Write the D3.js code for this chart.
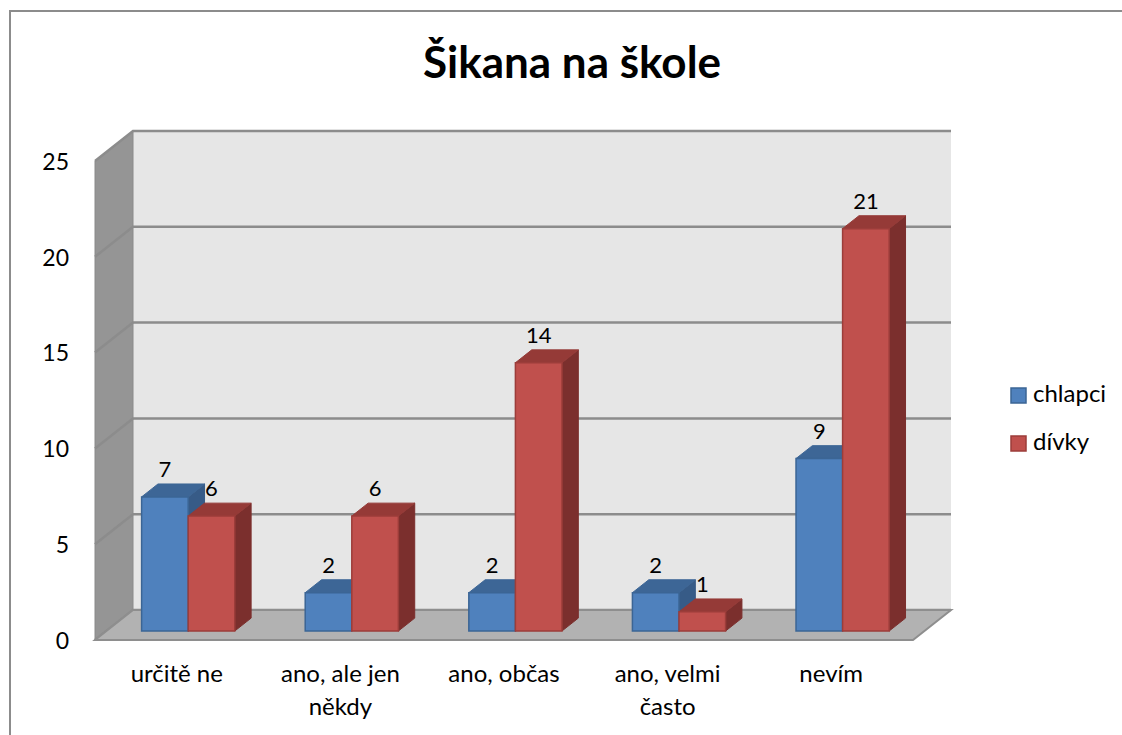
<!DOCTYPE html>
<html>
<head>
<meta charset="utf-8">
<script src="https://cdn.jsdelivr.net/npm/d3@7"></script>
<style>
  body { margin: 0; background: #fff; }
  svg { display: block; font-family: Lato, sans-serif; }
</style>
</head>
<body>
<div id="chart"></div>
<script>
const categories = ["určitě ne", "ano, ale jen někdy", "ano, občas", "ano, velmi často", "nevím"];
const series = ["chlapci", "dívky"];
const chlapci = [7, 2, 2, 2, 9];
const divky = [6, 6, 14, 1, 21];
const yTicks = [0, 5, 10, 15, 20, 25];

const width = 1122, height = 735;
const front = { left: 95, right: 913, bottom: 640, top: 161 };
const depthX = 38, depthY = -30;
const barZ0 = 0.3, barZ1 = 0.73;

const palette = {
  chlapci: { front: "#4f81bd", top: "#3d6696", side: "#375b87", stroke: "#3b6595" },
  "dívky": { front: "#c0504d", top: "#953a37", side: "#7b2f2d", stroke: "#9c3d3a" }
};

const svg = d3.select("#chart").append("svg")
  .attr("width", width)
  .attr("height", height);

// outer border
svg.append("rect")
  .attr("x", 10).attr("y", 11)
  .attr("width", 1125).attr("height", 740)
  .attr("fill", "#fff")
  .attr("stroke", "#8c8c8c")
  .attr("stroke-width", 2);

const y = d3.scaleLinear().domain([0, 25]).range([front.bottom, front.top]);
const x0 = d3.scaleBand().domain(categories).range([front.left, front.right]);
const x1 = d3.scaleBand().domain(series).range([0, x0.bandwidth()]).paddingOuter(0.756);

// project a point (front x, value, depth 0..1)
const P = (x, v, z) => [x + z * depthX, y(v) + z * depthY];
const poly = pts => pts.map(p => p.join(",")).join(" ");

// back wall
svg.append("polygon")
  .attr("points", poly([P(front.left, 0, 1), P(front.right, 0, 1), P(front.right, 25, 1), P(front.left, 25, 1)]))
  .attr("fill", "#e6e6e6");

// side wall
svg.append("polygon")
  .attr("points", poly([P(front.left, 0, 0), P(front.left, 0, 1), P(front.left, 25, 1), P(front.left, 25, 0)]))
  .attr("fill", "#959595")
  .attr("stroke", "#8a8a8a")
  .attr("stroke-width", 1);

// gridlines
yTicks.forEach(t => {
  svg.append("polyline")
    .attr("points", poly([P(front.left, t, 0), P(front.left, t, 1), P(front.right, t, 1)]))
    .attr("fill", "none")
    .attr("stroke", "#8c8c8c")
    .attr("stroke-width", 2.5);
});

// floor
svg.append("polygon")
  .attr("points", poly([P(front.left, 0, 0), P(front.right, 0, 0), P(front.right, 0, 1), P(front.left, 0, 1)]))
  .attr("fill", "#b2b2b2")
  .attr("stroke", "#8e8e8e")
  .attr("stroke-width", 2);

// bars
const rows = [];
categories.forEach((c, i) => {
  rows.push({ cat: c, s: "chlapci", v: chlapci[i] });
  rows.push({ cat: c, s: "dívky", v: divky[i] });
});

const bars = svg.append("g").selectAll("g").data(rows).join("g");

bars.each(function (d) {
  const g = d3.select(this);
  const xl = x0(d.cat) + x1(d.s), xr = xl + x1.bandwidth();
  const col = palette[d.s];
  g.append("polygon")
    .attr("points", poly([P(xr, 0, barZ0), P(xr, 0, barZ1), P(xr, d.v, barZ1), P(xr, d.v, barZ0)]))
    .attr("fill", col.side).attr("stroke", col.side).attr("stroke-width", 1);
  g.append("polygon")
    .attr("points", poly([P(xl, d.v, barZ0), P(xr, d.v, barZ0), P(xr, d.v, barZ1), P(xl, d.v, barZ1)]))
    .attr("fill", col.top).attr("stroke", col.top).attr("stroke-width", 1);
  g.append("polygon")
    .attr("points", poly([P(xl, 0, barZ0), P(xr, 0, barZ0), P(xr, d.v, barZ0), P(xl, d.v, barZ0)]))
    .attr("fill", col.front).attr("stroke", col.stroke).attr("stroke-width", 1.5);
});

// data labels
svg.append("g").selectAll("text").data(rows).join("text")
  .attr("x", d => P(x0(d.cat) + x1(d.s) + x1.bandwidth() / 2, d.v, barZ0)[0])
  .attr("y", d => P(0, d.v, barZ0)[1] - 20)
  .attr("text-anchor", "middle")
  .attr("font-size", 22)
  .attr("fill", "#000")
  .text(d => d.v);

// y axis
const yAxis = svg.append("g")
  .attr("transform", "translate(69,0)")
  .call(d3.axisLeft(y).tickValues(yTicks).tickSize(0).tickPadding(0));
yAxis.select(".domain").remove();
yAxis.selectAll("text")
  .attr("font-family", "Lato, sans-serif")
  .attr("font-size", 23)
  .attr("fill", "#000")
  .attr("dy", "0.36em");

// category labels (wrapped)
const xAxis = svg.append("g")
  .attr("transform", `translate(0,${front.bottom})`)
  .call(d3.axisBottom(x0).tickSize(0).tickPadding(0));
xAxis.select(".domain").remove();
xAxis.selectAll("text")
  .attr("font-family", "Lato, sans-serif")
  .attr("font-size", 24)
  .attr("fill", "#000")
  .attr("dy", null)
  .attr("y", 42)
  .each(function (d) {
    const t = d3.select(this);
    const words = d.split(" ");
    t.text(null);
    let line = [], tspan = t.append("tspan").attr("x", 0).attr("y", 42);
    let lineNo = 0;
    words.forEach(w => {
      line.push(w);
      tspan.text(line.join(" "));
      if (tspan.node().getComputedTextLength() > 145 && line.length > 1) {
        line.pop();
        tspan.text(line.join(" "));
        line = [w];
        lineNo++;
        tspan = t.append("tspan").attr("x", 0).attr("y", 42 + lineNo * 33).text(w);
      }
    });
  });

// title
svg.append("text")
  .attr("x", 572).attr("y", 78)
  .attr("text-anchor", "middle")
  .attr("font-size", 44)
  .attr("font-weight", "bold")
  .attr("fill", "#000")
  .text("Šikana na škole");

// legend
const legend = svg.append("g").selectAll("g").data(series).join("g")
  .attr("transform", (d, i) => `translate(1011,${388 + i * 48})`);
legend.append("rect")
  .attr("width", 15).attr("height", 15)
  .attr("fill", d => palette[d].front)
  .attr("stroke", d => palette[d].stroke)
  .attr("stroke-width", 1.5);
legend.append("text")
  .attr("x", 22).attr("y", 14)
  .attr("font-size", 24)
  .attr("fill", "#000")
  .text(d => d);
</script>
</body>
</html>
